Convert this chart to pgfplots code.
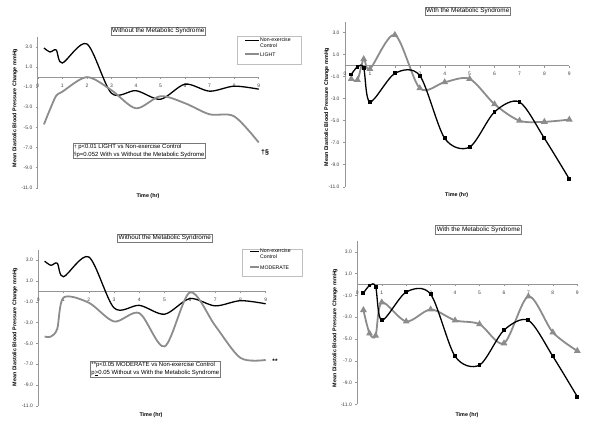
\documentclass[border=0pt]{standalone}
\usepackage{pgfplots}
\pgfplotsset{compat=1.18}
\usepackage{fontspec}
\setmainfont{Liberation Sans}
\definecolor{sgray}{RGB}{140,140,140}
\definecolor{agray}{RGB}{150,150,150}
\definecolor{bgray}{RGB}{120,120,120}
\pgfplotsset{
  panel/.style={
    scale only axis, xmin=0, xmax=9, ymin=-11, ymax=4,
    axis x line*=middle, axis y line*=left,
    hide obscured x ticks=false,
    xtick={0,...,9}, ytick={-11,-9,-7,-5,-3,-1,1,3},
    yticklabel={\pgfmathprintnumber[fixed,fixed zerofill,precision=1,assume math mode=true]{\tick}},
    xticklabel={\pgfmathprintnumber[assume math mode=true]{\tick}},
    ticklabel style={font=\fontsize{5}{6}\selectfont, text=black!75},
    xticklabel style={yshift=-1bp},
    tick style={agray, line width=0.4bp},
    major tick length=2bp,
    tick align=outside,
    axis line style={agray, line width=0.7bp},
    clip=false,
  },
  ctrl/.style={black, line width=1.3bp, smooth, tension=0.5},
  ex/.style={sgray, line width=1.8bp, smooth, tension=0.5},
}
\pgfplotstableread{
t v
0.25 2.9
0.5 2.5
0.75 2.7
1 1.4
2 3.3
3 -1.6
4 -1.35
5 -2.2
6 -0.7
7 -1.4
8 -0.9
9 -1.2
}\ctrlA
\pgfplotstableread{
t v
0.25 -0.8
0.5 -0.1
0.75 -0.2
1 -3.3
2 -0.7
3 -0.9
4 -6.6
5 -7.4
6 -4.2
7 -3.3
8 -6.6
9 -10.3
}\ctrlB
\pgfplotstableread{
t v
0.25 -4.7
0.5 -3.2
0.75 -1.85
1 -1.45
2 0
3 -1.3
4 -3.1
5 -1.9
6 -2.6
7 -3.7
8 -3.9
9 -6.5
}\lightA
\pgfplotstableread{
t v
0.25 -1.2
0.5 -1.3
0.75 0.6
1 -0.3
2 2.8
3 -2.05
4 -1.5
5 -1.2
6 -3.5
7 -5.0
8 -5.1
9 -4.9
}\lightB
\pgfplotstableread{
t v
0.25 -4.35
0.5 -4.35
0.75 -3.6
1 -0.6
2 -1.1
3 -2.9
4 -2.1
5 -5.3
6 -0.1
7 -3.3
8 -6.4
9 -6.6
}\modA
\pgfplotstableread{
t v
0.25 -2.35
0.5 -4.5
0.75 -4.7
1 -1.65
2 -3.4
3 -2.3
4 -3.3
5 -3.65
6 -5.4
7 -1.1
8 -4.4
9 -6.1
}\modB
\newcommand{\lab}{\fontsize{5.4}{6}\selectfont\bfseries}
\newcommand{\ttl}{\fontsize{6.4}{7}\selectfont}
\newcommand{\ann}{\fontsize{6}{7.5}\selectfont}
\newcommand{\leg}{\fontsize{5.2}{5.5}\selectfont}
\begin{document}
\begin{tikzpicture}[x=1bp,y=1bp]
\useasboundingbox (0,0) rectangle (600,426);
% Panel 1
\begin{axis}[panel, at={(37.8bp,238.3bp)}, anchor=south west, width=220.9bp, height=150.8bp]
\addplot[ctrl] table[x=t,y=v]{\ctrlA};
\addplot[ex] table[x=t,y=v]{\lightA};
\end{axis}
% Panel 2
\begin{axis}[panel, at={(345bp,239.3bp)}, anchor=south west, width=224.3bp, height=165bp]
\addplot[ex, mark=triangle*, mark size=2.2bp, mark options={solid}] table[x=t,y=v]{\lightB};
\addplot[ctrl, mark=square*, mark size=1.3bp] table[x=t,y=v]{\ctrlB};
\end{axis}
% Panel 3
\begin{axis}[panel, at={(38.3bp,20.3bp)}, anchor=south west, width=227.4bp, height=156bp]
\addplot[ctrl] table[x=t,y=v]{\ctrlA};
\addplot[ex] table[x=t,y=v]{\modA};
\end{axis}
% Panel 4
\begin{axis}[panel, at={(357.3bp,21.7bp)}, anchor=south west, width=220bp, height=163.5bp]
\addplot[ex, mark=triangle*, mark size=2.2bp] table[x=t,y=v]{\modB};
\addplot[ctrl, mark=square*, mark size=1.3bp] table[x=t,y=v]{\ctrlB};
\end{axis}
% Titles
\node[draw=bgray, line width=0.5bp, inner sep=1.2bp, font=\ttl] at (158.3,395) {Without the Metabolic Syndrome};
\node[draw=bgray, line width=0.5bp, inner sep=1.2bp, font=\ttl] at (467.7,415) {With the Metabolic Syndrome};
\node[draw=bgray, line width=0.5bp, inner sep=1.2bp, font=\ttl] at (164.8,188) {Without the Metabolic Syndrome};
\node[draw=bgray, line width=0.5bp, inner sep=1.2bp, font=\ttl] at (478.5,196.3) {With the Metabolic Syndrome};
% Y labels
\foreach \px/\py in {15/318, 326.7/319, 15/99, 335/98}
  \node[rotate=90, font=\lab] at (\px,\py) {Mean Diastolic Blood Pressure Change mmHg};
% X labels
\foreach \px/\py in {148/230, 456.7/231, 151/11.3, 467/11.3}
  \node[font=\lab] at (\px,\py) {Time (hr)};
% Legend panel 1
\draw[black!25, line width=0.5bp] (237,362) rectangle (301.5,390);
\draw[black, line width=1.3bp] (245,385.5) -- (259,385.5);
\draw[sgray, line width=1.8bp] (245,371.7) -- (259,371.7);
\node[anchor=north west, align=left, inner sep=0pt, font=\leg] at (260,388.2) {Non-exercise\\Control};
\node[anchor=west, inner sep=0pt, font=\leg] at (260,371.7) {LIGHT};
% Legend panel 3
\draw[black!25, line width=0.5bp] (242.3,150) rectangle (302,177);
\draw[black, line width=1.3bp] (250,174.3) -- (259.3,174.3);
\draw[sgray, line width=1.8bp] (250,158.7) -- (259.3,158.7);
\node[anchor=north west, align=left, inner sep=0pt, font=\leg] at (260,177) {Non-exercise\\Control};
\node[anchor=west, inner sep=0pt, font=\leg] at (260,158.7) {MODERATE};
% Annotations
\node[draw=bgray, line width=0.5bp, align=left, inner sep=1.2bp, font=\ann, anchor=north west] at (72.7,283) {\raisebox{0.5bp}{\fontsize{4.5}{5}\selectfont\dag} p<0.01 LIGHT vs Non-exercise Control\\\raisebox{0.5bp}{\fontsize{4.5}{5}\selectfont\S}p=0.052 With vs Without the Metabolic Sydrome};
\node[font=\fontsize{7}{8}\selectfont\bfseries] at (265,274) {\dag\S};
\node[draw=bgray, line width=0.5bp, align=left, inner sep=1.2bp, font=\ann, anchor=north west] at (90,65) {**p<0.05 MODERATE vs Non-exercise Control\\p\underline{>}0.05 Without vs With the Metabolic Syndrome};
\node[font=\fontsize{6.5}{7}\selectfont\bfseries] at (275,65) {**};
\end{tikzpicture}
\end{document}
